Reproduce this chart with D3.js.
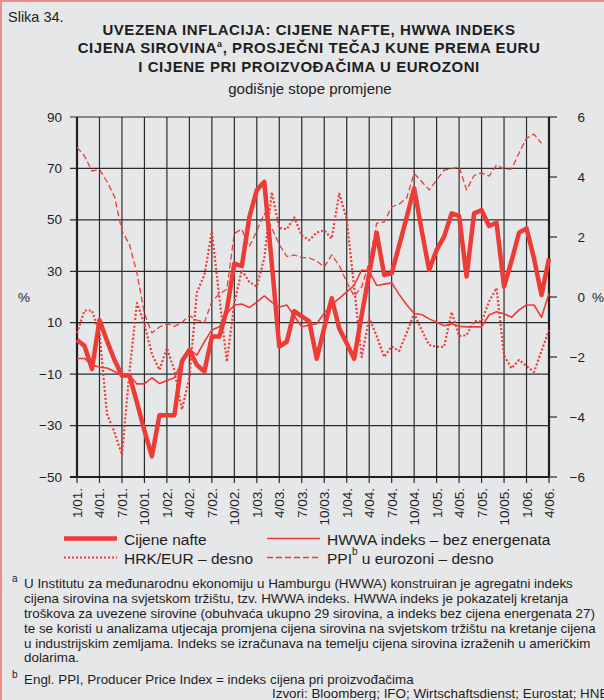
<!DOCTYPE html>
<html>
<head>
<meta charset="utf-8">
<script src="https://cdn.jsdelivr.net/npm/d3@7"></script>
<style>
  body { margin: 0; background: #e6e7e9; }
  svg { display: block; font-family: "Liberation Sans", Arial, sans-serif; }
</style>
</head>
<body>
<div id="chart"></div>
<script>
// godisnje stope promjene, monthly 1/01 .. 4/06
const quarterLabels = ['1/01.', '4/01.', '7/01.', '10/01.', '1/02.', '4/02.', '7/02.', '10/02.',
  '1/03.', '4/03.', '7/03.', '10/03.', '1/04.', '4/04.', '7/04.', '10/04.',
  '1/05.', '4/05.', '7/05.', '10/05.', '1/06.', '4/06.']

// cijene nafte (lijevo)
const oil = [3.3, 1, -8, 11, 3, -4.5, -10.5, -10.5, -21, -32, -42, -26,
  -26, -26, -5, -0.6, -6.4, -9, 4.6, 4.6, 15, 33, 32, 51,
  61.6, 64.8, 33, 0.7, 2.6, 14.5, 12.5, 10.5, -4, 8, 19.5, 7.8,
  2, -4, 13, 29, 45, 28.6, 29.2, 40, 51, 62.3, 46, 30.5,
  38.3, 43.5, 52.5, 51.5, 28, 52.5, 53.8, 47.6, 48.9, 24, 34, 45,
  46.7, 35, 20.8, 35]

// HWWA indeks - bez energenata (lijevo)
const hwwa = [-3.9, -3.9, -6.4, -7.3, -7.6, -9, -10.4, -10.4, -13.8, -13.8, -11.4, -13.6,
  -12.5, -11.4, -5.2, -0.4, -2.6, 2.6, 7.2, 8.4, 13.6, 16.9, 17.3, 15.9,
  18, 20.4, 18, 16, 16.9, 12.6, 8.4, 9, 9.6, 13.8, 17, 19.5,
  22, 24.5, 30.5, 30, 24.5, 25, 25.5, 21, 17, 13.6, 13.2, 11.5,
  10.2, 8.8, 9.6, 8.6, 8.4, 8.4, 8.4, 13, 14.3, 13.5, 12.1, 15,
  16.9, 16.9, 12.1, 21.4]

// HRK/EUR (desno)
const hrkEur = [-1.2, -0.45, -0.45, -1.2, -3.9, -4.5, -5.27, -2.5, -0.2, -0.9, -1.9, -2.43,
  -1.7, -2.45, -3.75, -2.7, 0.15, 0.73, 2.18, 0, -2.16, -0.2, 0.9, 0.5,
  0.35, 1.3, 3.5, 2.3, 2.26, 2.65, 2.05, 1.9, 2.15, 2.22, 1.95, 3.45,
  2.6, 0.3, -2, -0.7, -1.3, -2, -1.65, -1.8, -1.2, -0.55, -1.1, -1.6,
  -1.66, -1.66, -0.5, -1.3, -1.27, -0.8, -0.82, -0.15, 0.3, -1.95, -2.38, -2.1,
  -2.3, -2.5, -1.8, -1.1]

// PPI u eurozoni (desno)
const ppi = [4.99, 4.7, 4.2, 4.25, 3.85, 3.35, 2.2, 1.75, 0.8, -0.55, -1.2, -1,
  -0.88, -0.98, -0.85, -0.62, -0.77, -0.85, -0.15, 0.1, 0.26, 2.12, 2.26, 1.68,
  2.2, 2.79, 2.3, 1.75, 1.35, 1.4, 1.32, 1.3, 1.2, 1, 1.4, 1.05,
  0.5, 0.02, 0.34, 1.15, 2.46, 2.5, 3, 3.1, 3.3, 4.12, 3.85, 3.57,
  3.9, 4.23, 4.28, 4.34, 3.57, 4.05, 4.14, 4.03, 4.4, 4.26, 4.26, 4.8,
  5.29, 5.43, 5.12]

const leftTicks = [90, 70, 50, 30, 10, -10, -30, -50]
const rightTicks = [6, 4, 2, 0, -2, -4, -6]

const red = '#ee3b35'
const W = 604, H = 700
const plot = { left: 77, right: 549, top: 117, bottom: 477 }

const svg = d3.select('#chart').append('svg')
  .attr('width', W)
  .attr('height', H)

// frame
svg.append('rect').attr('width', W).attr('height', H).attr('fill', '#e6e7e9')
svg.append('line').attr('x1', 1).attr('x2', 1).attr('y1', 0).attr('y2', H)
  .attr('stroke', '#f08a86').attr('stroke-width', 2)
svg.append('line').attr('x1', 0).attr('x2', W).attr('y1', 1).attr('y2', 1)
  .attr('stroke', '#f08a86').attr('stroke-width', 2)

// scales
const x = d3.scaleLinear().domain([0, 63]).range([plot.left, plot.right])
const yL = d3.scaleLinear().domain([-50, 90]).range([plot.bottom, plot.top])
const yR = d3.scaleLinear().domain([-6, 6]).range([plot.bottom, plot.top])

// titles
svg.append('text').attr('x', 8).attr('y', 22).attr('font-size', 14.5).attr('fill', '#222').text('Slika 34.')
const tg = svg.append('g').attr('font-weight', 'bold').attr('font-size', 15)
  .attr('letter-spacing', 0.55).attr('fill', '#1e1e1e').attr('text-anchor', 'middle')
tg.append('text').attr('x', 309).attr('y', 35).text('UVEZENA INFLACIJA: CIJENE NAFTE, HWWA INDEKS')
const t2 = tg.append('text').attr('x', 309).attr('y', 53.3)
t2.append('tspan').text('CIJENA SIROVINA')
t2.append('tspan').attr('font-size', 9).attr('dy', -6).text('a')
t2.append('tspan').attr('dy', 6).text(', PROSJEČNI TEČAJ KUNE PREMA EURU')
tg.append('text').attr('x', 309).attr('y', 71.7).text('I CIJENE PRI PROIZVOĐAČIMA U EUROZONI')
svg.append('text').attr('x', 310).attr('y', 93.5).attr('text-anchor', 'middle')
  .attr('font-size', 15).attr('fill', '#222').text('godišnje stope promjene')

// grid
const grid = svg.append('g').attr('stroke', '#2b2b2b').attr('stroke-width', 1.2)
grid.selectAll('.hg').data(leftTicks).join('line')
  .attr('x1', plot.left - 7).attr('x2', plot.right)
  .attr('y1', d => yL(d)).attr('y2', d => yL(d))
grid.selectAll('.vg').data(quarterLabels).join('line')
  .attr('x1', (d, i) => x(i * 3)).attr('x2', (d, i) => x(i * 3))
  .attr('y1', plot.top).attr('y2', plot.bottom + 6)
grid.selectAll('.rt').data(rightTicks).join('line')
  .attr('x1', plot.right).attr('x2', plot.right + 8)
  .attr('y1', d => yR(d)).attr('y2', d => yR(d))

// axes frame
const ax = svg.append('g').attr('stroke', '#1e1e1e').attr('stroke-width', 2.2)
ax.append('line').attr('x1', plot.left).attr('x2', plot.left).attr('y1', plot.top).attr('y2', plot.bottom)
ax.append('line').attr('x1', plot.right).attr('x2', plot.right).attr('y1', plot.top).attr('y2', plot.bottom)
ax.append('line').attr('x1', plot.left - 7).attr('x2', plot.right).attr('y1', plot.bottom).attr('y2', plot.bottom)

// axis labels
const lab = svg.append('g').attr('font-size', 13.5).attr('fill', '#1e1e1e')
lab.selectAll('.ll').data(leftTicks).join('text')
  .attr('x', 62).attr('y', d => yL(d) + 4.5).attr('text-anchor', 'end')
  .text(d => d < 0 ? '\u2212' + Math.abs(d) : d)
lab.selectAll('.rl').data(rightTicks).join('text')
  .attr('x', 585).attr('y', d => yR(d) + 4.5).attr('text-anchor', 'end')
  .text(d => d < 0 ? '\u2212' + Math.abs(d) : d)
lab.append('text').attr('x', 18).attr('y', 302).text('%')
lab.append('text').attr('x', 592).attr('y', 302).text('%')
svg.append('g').attr('font-size', 13.5).attr('fill', '#1e1e1e')
  .selectAll('text').data(quarterLabels).join('text')
  .attr('transform', (d, i) => `translate(${x(i * 3) + 5},488) rotate(-90)`)
  .attr('text-anchor', 'end')
  .text(d => d)

// series
const lineL = d3.line().x((d, i) => x(i)).y(d => yL(d))
const lineR = d3.line().x((d, i) => x(i)).y(d => yR(d))
const series = svg.append('g').attr('fill', 'none').attr('stroke', red).attr('stroke-linejoin', 'round')
series.append('path').datum(ppi).attr('d', lineR).attr('stroke-width', 1.3).attr('stroke-dasharray', '6,3')
series.append('path').datum(hrkEur).attr('d', lineR).attr('stroke-width', 2.2).attr('stroke-dasharray', '2,2')
series.append('path').datum(hwwa).attr('d', lineL).attr('stroke-width', 1.6)
series.append('path').datum(oil).attr('d', lineL).attr('stroke-width', 4.5)

// legend
const leg = [
  { name: 'Cijene nafte', x: 64, y: 544.5, w: 4.5, dash: null },
  { name: 'HWWA indeks \u2013 bez energenata', x: 267, y: 544.5, w: 1.6, dash: null },
  { name: 'HRK/EUR \u2013 desno', x: 64, y: 563.5, w: 2.2, dash: '2,2' },
  { name: 'PPI', x: 267, y: 563.5, w: 1.3, dash: '6,3' }
]
const lg = svg.append('g')
leg.forEach(d => {
  lg.append('line').attr('x1', d.x).attr('x2', d.x + 53).attr('y1', d.y - 6).attr('y2', d.y - 6)
    .attr('stroke', red).attr('stroke-width', d.w).attr('stroke-dasharray', d.dash)
  const t = lg.append('text').attr('x', d.x + 60).attr('y', d.y).attr('font-size', 15.5).attr('fill', '#1e1e1e')
  t.append('tspan').text(d.name)
  if (d.name === 'PPI') {
    t.append('tspan').attr('font-size', 10).attr('dy', -9).text('b')
    t.append('tspan').attr('dy', 9).text(' u eurozoni \u2013 desno')
  }
})

// footnotes
const notes = [
  'U Institutu za međunarodnu ekonomiju u Hamburgu (HWWA) konstruiran je agregatni indeks',
  'cijena sirovina na svjetskom tržištu, tzv. HWWA indeks. HWWA indeks je pokazatelj kretanja',
  'troškova za uvezene sirovine (obuhvaća ukupno 29 sirovina, a indeks bez cijena energenata 27)',
  'te se koristi u analizama utjecaja promjena cijena sirovina na svjetskom tržištu na kretanje cijena',
  'u industrijskim zemljama. Indeks se izračunava na temelju cijena sirovina izraženih u američkim',
  'dolarima.'
]
const fn = svg.append('g').attr('font-size', 13.4).attr('fill', '#1e1e1e')
fn.append('text').attr('x', 12).attr('y', 582).attr('font-size', 10).text('a')
fn.selectAll('.n').data(notes).join('text')
  .attr('x', 24).attr('y', (d, i) => 588.3 + i * 14.8).text(d => d)
fn.append('text').attr('x', 12).attr('y', 677.5).attr('font-size', 10).text('b')
fn.append('text').attr('x', 24).attr('y', 683.5).text('Engl. PPI, Producer Price Index = indeks cijena pri proizvođačima')
fn.append('text').attr('x', 272).attr('y', 698).text('Izvori: Bloomberg; IFO; Wirtschaftsdienst; Eurostat; HNB')
</script>
</body>
</html>
